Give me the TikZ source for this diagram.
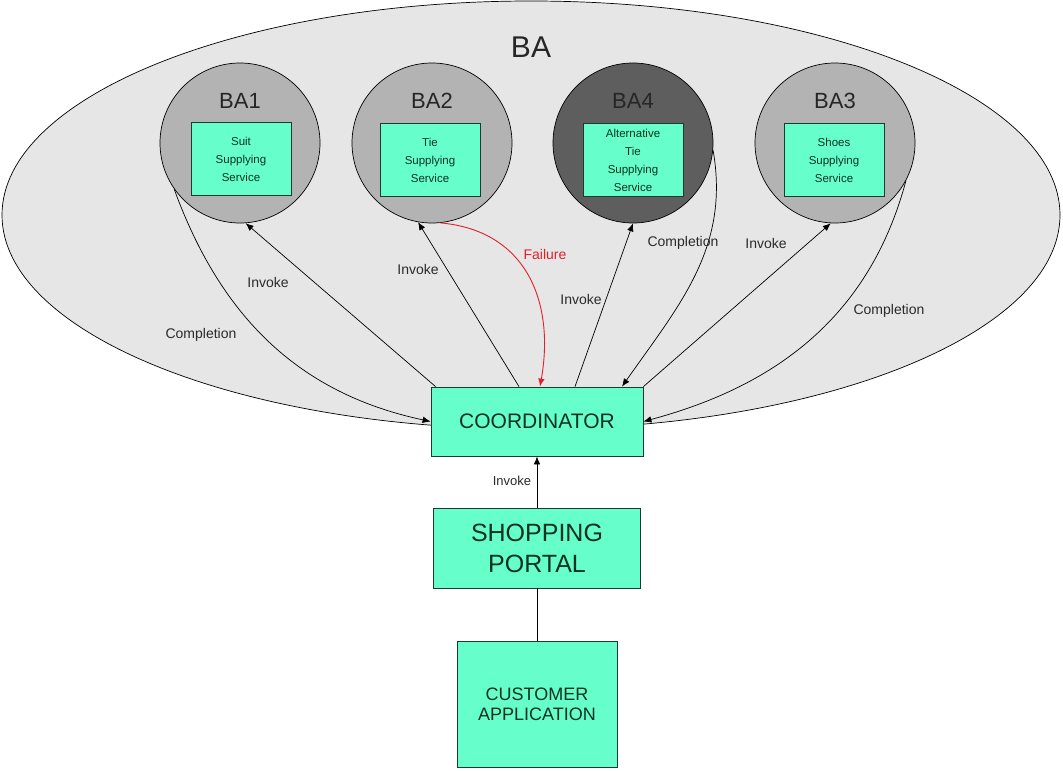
\documentclass[tikz,border=0pt]{standalone}
\usepackage{fontspec}
\setmainfont{Liberation Sans}
\usetikzlibrary{shapes.geometric,arrows.meta,calc}
\definecolor{ellgray}{HTML}{E6E6E6}
\definecolor{circgray}{HTML}{B3B3B3}
\definecolor{darkcirc}{HTML}{5E5E5E}
\definecolor{aqua}{HTML}{66FFCC}
\definecolor{boxline}{HTML}{1E3A2C}
\definecolor{boxtext}{HTML}{0A3320}
\definecolor{lbl}{HTML}{2A2A2A}
\definecolor{failred}{HTML}{E0202A}
\begin{document}
\begin{tikzpicture}[x=1pt,y=-1pt,
  bacirc/.style={circle,draw=black,line width=0.7pt,fill=circgray,minimum size=160pt,inner sep=0pt},
  svcbox/.style={draw=boxline,line width=1pt,fill=aqua,text=boxtext,align=center,inner sep=0pt,
     minimum width=100pt,minimum height=73pt,font=\fontsize{11.5}{18}\selectfont},
  bigbox/.style={draw=boxline,line width=0.8pt,fill=aqua,text=boxtext,align=center,inner sep=0pt},
  balbl/.style={font=\fontsize{22}{24}\selectfont,text=black!85},
  elbl/.style={font=\fontsize{14}{16}\selectfont,text=lbl,inner sep=1pt},
  arr/.style={line width=0.7pt,draw=black,-{Latex[length=8pt,width=6.5pt]}},
  plain/.style={line width=0.7pt,draw=black}]
\useasboundingbox (0,0) rectangle (1063,771);
\fill[white] (0,0) rectangle (1063,771);

% big ellipse
\node[ellipse,draw=black,line width=0.7pt,fill=ellgray,minimum width=1058pt,minimum height=428pt,inner sep=0pt] (ba) at (531,215) {};
\node[font=\fontsize{30}{32}\selectfont,text=black!85] (balabel) at (531,47) {BA};

% circles
\node[bacirc] (c1) at (240,143) {};
\node[bacirc] (c2) at (432,143) {};
\node[bacirc,fill=darkcirc] (c4) at (633,143) {};
\node[bacirc] (c3) at (835,143) {};

\node[balbl] (l1) at (240,101) {BA1};
\node[balbl] (l2) at (432,101) {BA2};
\node[balbl] (l4) at (633,101) {BA4};
\node[balbl] (l3) at (835,101) {BA3};

\node[svcbox] (s1) at (241,159) {Suit\\Supplying\\Service};
\node[svcbox] (s2) at (430,160) {Tie\\Supplying\\Service};
\node[svcbox] (s4) at (633,160) {Alternative\\Tie\\Supplying\\Service};
\node[svcbox] (s3) at (834,160) {Shoes\\Supplying\\Service};

% lower boxes
\node[bigbox,minimum width=212pt,minimum height=69pt,font=\fontsize{21}{24}\selectfont] (coord) at (537,421.5) {COORDINATOR};
\node[bigbox,minimum width=207pt,minimum height=80pt,font=\fontsize{25}{31}\selectfont] (portal) at (537,548) {SHOPPING\\PORTAL};
\node[bigbox,minimum width=160pt,minimum height=126pt,font=\fontsize{18}{20}\selectfont] (cust) at (537,704) {CUSTOMER\\APPLICATION};

% connectors
\draw[arr] (c1.215) to[out=-70,in=168] (coord.west);
\draw[arr] ($(coord.north west)+(5,0)$) -- (c1.-86);
\draw[arr] ($(coord.north)+(-18,0)$) -- (c2.-100);
\draw[arr,draw=failred,line width=0.9pt] (c2.-84) to[out=-5,in=80,looseness=1.15] ($(coord.north)+(3,0)$);
\draw[arr] ($(coord.north)+(38,0)$) -- (c4.-90);
\draw[arr] (c4.-5) to[out=-80,in=55] ($(coord.north)+(85,0)$);
\draw[arr] (coord.north east) -- (c3.-93);
\draw[arr] (c3.-28) to[out=-105,in=15] (coord.east);
\draw[arr] (portal.north) -- (coord.south);
\draw[plain] (cust.north) -- (portal.south);

% labels
\node[elbl] (t1) at (201,335) {Completion};
\node[elbl] (t2) at (268,282) {Invoke};
\node[elbl] (t3) at (418,269) {Invoke};
\node[elbl,text=failred] (t4) at (545,254) {Failure};
\node[elbl] (t5) at (581,299) {Invoke};
\node[elbl] (t6) at (683,243) {Completion};
\node[elbl] (t7) at (766,243) {Invoke};
\node[elbl] (t8) at (889,311) {Completion};
\node[elbl,font=\fontsize{13}{15}\selectfont] (t9) at (512,481) {Invoke};
\end{tikzpicture}
\end{document}
